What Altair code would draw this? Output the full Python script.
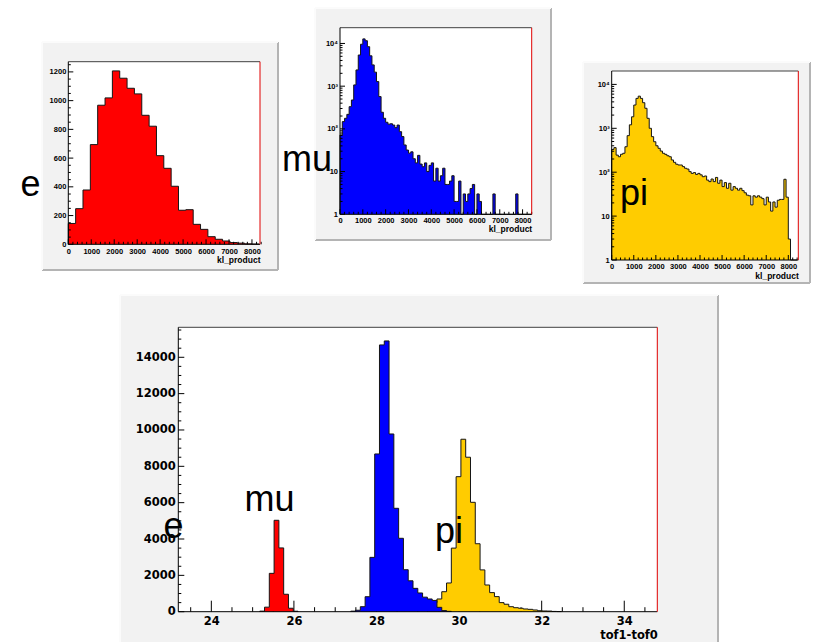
import altair as alt
import pandas as pd

W, H = 816, 642

# ---------------- values ----------------
# electrons, kl_product (26 bins of 320)
e_kl_bin_width = 320
e_kl_counts = [145, 248, 378, 694, 968, 1019, 1207, 1156, 1086, 1047, 898, 822, 617,
               529, 404, 237, 241, 139, 104, 53, 35, 23, 12, 8, 3, 2]

# muons, kl_product (84 bins of 100, log y)
mu_kl_bin_width = 100
mu_kl_counts = [72, 148, 177, 219, 331, 475, 1070, 2400, 5370, 9600,
                12800, 11600, 8400, 5140, 3150, 2130, 1280, 570, 245, 177,
                143, 129, 132, 123, 107, 123, 86, 66, 42, 32,
                27, 29, 20, 16, 24, 15, 13, 16, 10, 14,
                16, 6, 12, 6, 8, 12, 5, 5, 6, 8,
                2, 2, 6, 1, 3, 2, 3, 4, 5, 0,
                3, 2, 0, 0, 0, 0, 0, 3, 0, 0,
                0, 0, 0, 0, 0, 0, 0, 3, 0, 0,
                0, 0, 0, 0]

# pions, kl_product (84 bins of 100, log y)
pi_kl_bin_width = 100
pi_kl_counts = [330, 363, 245, 225, 256, 270, 380, 680, 1200, 1830,
                3390, 4800, 5400, 4800, 3830, 2860, 1690, 1000, 645, 494,
                400, 350, 303, 270, 255, 237, 225, 190, 168, 152,
                146, 146, 134, 123, 118, 103, 94, 98, 89, 94,
                87, 79, 82, 66, 61, 70, 61, 76, 56, 66,
                47, 58, 43, 56, 39, 47, 43, 39, 43, 38,
                34, 30, 29, 18, 29, 27, 29, 27, 25, 18,
                27, 21, 13, 21, 16, 23, 24, 24, 69, 27,
                3, 0, 0, 0]

# tof1-tof0 (bins of 0.116 starting at 23.2)
tof_bin_start = 23.2
tof_bin_width = 0.116
tof_e_first_bin = 17
tof_e_counts = [30, 250, 2110, 5030, 3510, 960, 190, 25]
tof_mu_first_bin = 36
tof_mu_counts = [30, 80, 275, 825, 2990, 8680, 14680, 14900, 9780, 5690, 4040,
                 2310, 1700, 1285, 1030, 800, 700, 620, 240, 60, 20]
tof_pi_first_bin = 52
tof_pi_counts = [300, 500, 700, 1100, 1580, 3500, 7430, 9490, 8500, 6020, 3740,
                 2300, 1470, 1050, 830, 500, 410, 275, 220, 190, 150, 130, 95,
                 55, 40, 35, 15, 8]

kl_tick_labels = [0, 1000, 2000, 3000, 4000, 5000, 6000, 7000, 8000]
e_y_tick_labels = [0, 200, 400, 600, 800, 1000, 1200]
log_tick_labels = [1, 10, 100, 1000, 10000]
tof_x_tick_labels = [24, 26, 28, 30, 32, 34]
tof_y_tick_labels = [0, 2000, 4000, 6000, 8000, 10000, 12000, 14000]

species = ["e", "mu", "pi"]
species_colors = {"e": "#ff0000", "mu": "#0000ff", "pi": "#ffcc00"}

# ---------------- layout (pixels) ----------------
P = {
    "e":   dict(canvas=(42, 42, 278, 270), frame=(68.3, 61.7, 260.0, 244.3),
                xdom=(0, 8350), ydom=(0, 1271), log=False),
    "mu":  dict(canvas=(315, 8, 551, 240), frame=(340.0, 27.7, 531.7, 214.3),
                xdom=(0, 8400), ydom=(1, 23400), log=True),
    "pi":  dict(canvas=(583, 62, 810, 283), frame=(611.7, 71.0, 798.3, 260.0),
                xdom=(0, 8453), ydom=(1, 20200), log=True),
    "tof": dict(canvas=(120, 295, 718, 645), frame=(178.3, 327.3, 657.3, 611.7),
                xdom=(23.2, 34.8), ydom=(0, 15650), log=False),
}
labels_df = pd.DataFrame({
    "t": ["e", "mu", "pi", "mu", "e", "pi"],
    "x": [20.5, 282, 620, 244.5, 163.5, 435],
    "y": [196, 171, 205, 511, 538, 543],
})

SMALL_FONT = "Liberation Sans"
BIG_FONT = "DejaVu Sans"


def xs(k):
    p = P[k]
    return alt.Scale(domain=list(p["xdom"]), range=[p["frame"][0], p["frame"][2]],
                     nice=False, zero=False)


def ys(k):
    p = P[k]
    if p["log"]:
        return alt.Scale(type="log", domain=list(p["ydom"]),
                         range=[p["frame"][3], p["frame"][1]], nice=False)
    return alt.Scale(domain=list(p["ydom"]), range=[p["frame"][3], p["frame"][1]],
                     nice=False, zero=False)


def hist(k, start, width, counts, color, ax=None, ay=None):
    base = P[k]["ydom"][0]
    vals = [max(c, base) for c in counts]
    n = len(vals)
    edges = [start + i * width for i in range(n + 1)]
    area_df = pd.DataFrame({"x": edges, "y": vals + [vals[-1]], "b": [base] * (n + 1)})
    ox = [edges[0]] + edges + [edges[-1]]
    oy = [base] + vals + [vals[-1], base]
    out_df = pd.DataFrame({"x": ox, "y": oy, "i": list(range(len(ox)))})
    area = alt.Chart(area_df).mark_area(interpolate="step-after", color=color, opacity=1).encode(
        x=alt.X("x:Q", scale=xs(k), axis=ax),
        y=alt.Y("y:Q", scale=ys(k), axis=ay, stack=None),
        y2="b:Q",
    )
    line = alt.Chart(out_df).mark_line(interpolate="step-after", color="#151515",
                                       strokeWidth=1).encode(
        x=alt.X("x:Q", scale=xs(k), axis=None),
        y=alt.Y("y:Q", scale=ys(k), axis=None),
        order="i:Q",
    )
    return [area, line]


def ticks(k, xmaj, xmin, ymaj, ymin, xlen, ylen):
    x0, y0, x1, y1 = P[k]["frame"]
    xt = pd.DataFrame({"v": xmaj + xmin,
                       "p0": [y1] * (len(xmaj) + len(xmin)),
                       "p1": [y1 - xlen[0]] * len(xmaj) + [y1 - xlen[1]] * len(xmin)})
    yt = pd.DataFrame({"v": ymaj + ymin,
                       "p0": [x0] * (len(ymaj) + len(ymin)),
                       "p1": [x0 + ylen[0]] * len(ymaj) + [x0 + ylen[1]] * len(ymin)})
    a = alt.Chart(xt).mark_rule(color="black", strokeWidth=1).encode(
        x=alt.X("v:Q", scale=xs(k), axis=None),
        y=alt.Y("p0:Q", scale=None), y2="p1:Q")
    b = alt.Chart(yt).mark_rule(color="black", strokeWidth=1).encode(
        y=alt.Y("v:Q", scale=ys(k), axis=None),
        x=alt.X("p0:Q", scale=None), x2="p1:Q")
    return [a, b]


def xaxis(k, values, fmt, title, font, size, tsize, pad, title_dy):
    x0, y0, x1, y1 = P[k]["frame"]
    return alt.Axis(orient="bottom", offset=y1 - H, values=values, format=fmt,
                    ticks=False, tickSize=0, domain=False, grid=False, zindex=5,
                    labelFont=font, labelFontWeight="bold", labelFontSize=size,
                    labelColor="black", labelPadding=pad, labelFlush=False,
                    labelOverlap=False, title=title, titleFont=font,
                    titleFontWeight="bold", titleFontSize=tsize, titleColor="black",
                    titleX=x1, titleY=title_dy, titleAlign="right",
                    titleBaseline="alphabetic", titleAngle=0)


def yaxis(k, values, font, size, pad, expr=None, fmt="d"):
    x0, y0, x1, y1 = P[k]["frame"]
    kw = dict(orient="left", offset=-x0, values=values, ticks=False, tickSize=0,
              domain=False, grid=False, zindex=5, labelFont=font, labelFontWeight="bold",
              labelFontSize=size, labelColor="black", labelPadding=pad,
              labelFlush=False, labelOverlap=False, title=None)
    if expr:
        kw["labelExpr"] = expr
    else:
        kw["format"] = fmt
    return alt.Axis(**kw)


# ---------------- decoration (canvases and frames) ----------------
canv = pd.DataFrame([P[k]["canvas"] for k in P], columns=["x0", "y0", "x1", "y1"])
frm = pd.DataFrame([P[k]["frame"] for k in P], columns=["x0", "y0", "x1", "y1"])

canvas_layer = alt.Chart(canv).mark_rect(color="#f2f2f2").encode(
    x=alt.X("x0:Q", scale=None), x2="x1:Q", y=alt.Y("y0:Q", scale=None), y2="y1:Q")
edge_rows = []
for (a, b, c, d) in [P[k]["canvas"] for k in P]:
    edge_rows.append(dict(x=c, x2=c, y=b, y2=d, col="#b4b4b4"))
    edge_rows.append(dict(x=a, x2=c, y=d, y2=d, col="#b4b4b4"))
    edge_rows.append(dict(x=a, x2=c, y=b, y2=b, col="#fbfbfb"))
    edge_rows.append(dict(x=a, x2=a, y=b, y2=d, col="#fbfbfb"))
canvas_edges = alt.Chart(pd.DataFrame(edge_rows)).mark_rule(strokeWidth=2).encode(
    x=alt.X("x:Q", scale=None), x2="x2:Q", y=alt.Y("y:Q", scale=None), y2="y2:Q",
    color=alt.Color("col:N", scale=None))
frame_layer = alt.Chart(frm).mark_rect(color="white").encode(
    x=alt.X("x0:Q", scale=None), x2="x1:Q", y=alt.Y("y0:Q", scale=None), y2="y1:Q")
fe = []
for (a, b, c, d) in [P[k]["frame"] for k in P]:
    fe.append(dict(x=a, x2=c, y=b, y2=b, col="#404040"))
    fe.append(dict(x=a, x2=a, y=b, y2=d, col="#000000"))
    fe.append(dict(x=a, x2=c, y=d, y2=d, col="#000000"))
    fe.append(dict(x=c, x2=c, y=b, y2=d, col="#e00000"))
frame_edges = alt.Chart(pd.DataFrame(fe)).mark_rule(strokeWidth=1).encode(
    x=alt.X("x:Q", scale=None), x2="x2:Q", y=alt.Y("y:Q", scale=None), y2="y2:Q",
    color=alt.Color("col:N", scale=None))

# ---------------- tick value sets ----------------
kl_minor = [v for v in range(0, 8401, 200) if v % 1000 != 0]
log_minor = [m * 10 ** d for d in range(0, 5) for m in range(2, 10) if m * 10 ** d < 20000]
e_y_minor = [v for v in range(0, 1251, 50) if v % 200 != 0]
tof_x_minor = [23.5 + 0.5 * i for i in range(23) if (23.5 + 0.5 * i) % 2 != 0]
tof_y_minor = [v for v in range(0, 15501, 500) if v % 2000 != 0]

log_expr = ("datum.value < 5 ? '1' : datum.value < 50 ? '10' : datum.value < 500 ? '10²' : "
            "datum.value < 5000 ? '10³' : '10⁴'")

layers = [canvas_layer, canvas_edges, frame_layer]

# e panel
layers += hist("e", 0, e_kl_bin_width, e_kl_counts, species_colors["e"],
               ax=xaxis("e", kl_tick_labels, "d", "kl_product", SMALL_FONT, 7.5, 8.5, 3, 18),
               ay=yaxis("e", e_y_tick_labels, SMALL_FONT, 7.5, 2.5))
layers += ticks("e", kl_tick_labels, kl_minor, e_y_tick_labels, e_y_minor, (5, 2.5), (5, 2.5))
# mu panel
layers += hist("mu", 0, mu_kl_bin_width, mu_kl_counts, species_colors["mu"],
               ax=xaxis("mu", kl_tick_labels, "d", "kl_product", SMALL_FONT, 7.5, 8.5, 2.5, 17),
               ay=yaxis("mu", log_tick_labels, SMALL_FONT, 7.5, 2.5, expr=log_expr))
layers += ticks("mu", kl_tick_labels, kl_minor, log_tick_labels, log_minor, (5, 2.5), (5, 2.5))
# pi panel
layers += hist("pi", 0, pi_kl_bin_width, pi_kl_counts, species_colors["pi"],
               ax=xaxis("pi", kl_tick_labels, "d", "kl_product", SMALL_FONT, 7.5, 8.5, 2.5, 18),
               ay=yaxis("pi", log_tick_labels, SMALL_FONT, 7.5, 2.5, expr=log_expr))
layers += ticks("pi", kl_tick_labels, kl_minor, log_tick_labels, log_minor, (5, 2.5), (5, 2.5))
# tof panel
layers += ticks("tof", tof_x_tick_labels, tof_x_minor, tof_y_tick_labels, tof_y_minor, (11, 4.5), (6, 3))
layers += hist("tof", tof_bin_start + tof_e_first_bin * tof_bin_width, tof_bin_width,
               tof_e_counts, species_colors["e"],
               ax=xaxis("tof", tof_x_tick_labels, "d", "tof1-tof0", BIG_FONT, 11.5, 11.5, 4, 27),
               ay=yaxis("tof", tof_y_tick_labels, BIG_FONT, 11.5, 3))
layers += hist("tof", tof_bin_start + tof_pi_first_bin * tof_bin_width, tof_bin_width,
               tof_pi_counts, species_colors["pi"])
layers += hist("tof", tof_bin_start + tof_mu_first_bin * tof_bin_width, tof_bin_width,
               tof_mu_counts, species_colors["mu"])

layers += [frame_edges]
layers += [alt.Chart(labels_df).mark_text(font="Liberation Sans", fontSize=36, align="left",
                                          baseline="alphabetic", color="black").encode(
    x=alt.X("x:Q", scale=None), y=alt.Y("y:Q", scale=None), text="t:N")]

chart = alt.layer(*layers).resolve_scale(
    x="independent", y="independent"
).resolve_axis(
    x="independent", y="independent"
).properties(
    width=W, height=H, autosize=alt.AutoSizeParams(type="none"), padding=0,
    background="white"
).configure_view(stroke=None)

chart.save("out.html", embed_options={"renderer": "svg", "actions": False})
